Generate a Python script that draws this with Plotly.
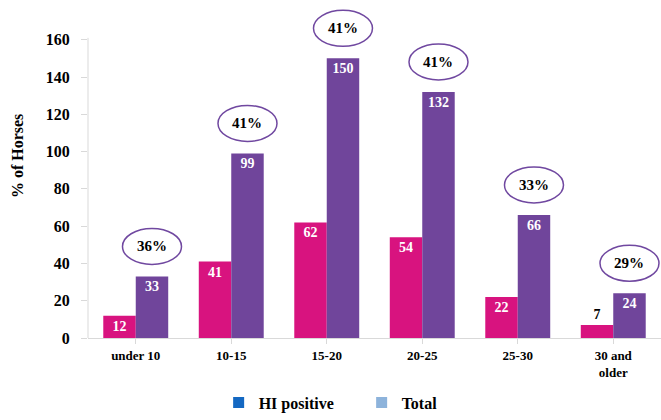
import plotly.graph_objects as go

# Age groups of the horses and the counts per group
age_groups = ["under 10", "10-15", "15-20", "20-25", "25-30", "30 and<br>older"]
hi_positive = [12, 41, 62, 54, 22, 7]
total = [33, 99, 150, 132, 66, 24]
y_tick_values = [0, 20, 40, 60, 80, 100, 120, 140, 160]

# share of HI positive horses within each age group
share_pct = [round(100 * h / t) for h, t in zip(hi_positive, total)]

SERIF = "Liberation Serif"
PINK = "#D8137F"
PURPLE = "#70459B"
AXIS_GREY = "#D9D9D9"
BAR_GAP = 0.32
bar_w = (1 - BAR_GAP) / 2  # width of one bar in category units

# the value axis stops at 160 but the plotting area runs to the top edge
# so the bubbles above the tallest bar stay visible
Y_AXIS_TOP = 160
Y_RANGE_TOP = 181.3

fig = go.Figure()

fig.add_trace(go.Bar(
    x=list(range(len(age_groups))), y=hi_positive, name="HI positive",
    marker=dict(color=PINK, line=dict(width=0)),
    text=[str(v) for v in hi_positive],
    textposition=["inside" if v >= 10 else "outside" for v in hi_positive],
    insidetextanchor="end", constraintext="none", textangle=0,
    insidetextfont=dict(family=SERIF, size=14, color="white", weight="bold"),
    outsidetextfont=dict(family=SERIF, size=14, color="black", weight="bold"),
    showlegend=False, cliponaxis=False,
))
fig.add_trace(go.Bar(
    x=list(range(len(age_groups))), y=total, name="Total",
    marker=dict(color=PURPLE, line=dict(width=0)),
    text=[str(v) for v in total],
    textposition="inside",
    insidetextanchor="end", constraintext="none", textangle=0,
    insidetextfont=dict(family=SERIF, size=14, color="white", weight="bold"),
    showlegend=False, cliponaxis=False,
))

# legend entries
fig.add_trace(go.Scatter(
    x=[None], y=[None], mode="markers", name="HI positive",
    marker=dict(symbol="square", size=11, color="#1468C2"),
))
fig.add_trace(go.Scatter(
    x=[None], y=[None], mode="markers", name="Total",
    marker=dict(symbol="square", size=11, color="#8DB3DB"),
))

# percentage bubbles above the Total bars
for i, (t, p) in enumerate(zip(total, share_pct)):
    xc = i + bar_w / 2
    fig.add_shape(
        type="circle", xref="x", yref="y",
        xsizemode="pixel", ysizemode="pixel",
        xanchor=xc, yanchor=t,
        x0=-29.5, x1=29.5, y0=30 - 18, y1=30 + 18,
        line=dict(color="#7048A0", width=1.5),
    )
    fig.add_annotation(
        x=xc, y=t, xref="x", yref="y", yshift=30,
        text=f"{p}%", showarrow=False,
        font=dict(family=SERIF, size=15, color="black", weight="bold"),
    )

# value axis line, ending at the top tick
fig.add_shape(
    type="line", xref="paper", yref="y",
    x0=0, x1=0, y0=0, y1=Y_AXIS_TOP + 1,
    line=dict(color=AXIS_GREY, width=1),
)

# y-axis title
fig.add_annotation(
    x=-0.124, y=0.538, xref="paper", yref="paper",
    text="% of Horses", textangle=-90, showarrow=False,
    xanchor="center", yanchor="middle",
    font=dict(family=SERIF, size=16, color="black", weight="bold"),
)

fig.update_layout(
    width=661, height=420,
    margin=dict(l=88, r=0, t=0, b=80),
    paper_bgcolor="white", plot_bgcolor="white",
    barmode="group", bargap=BAR_GAP, bargroupgap=0,
    font=dict(family=SERIF, color="black"),
    legend=dict(
        orientation="h", x=0.228, y=-0.191, xanchor="left", yanchor="middle",
        font=dict(family=SERIF, size=16, color="black", weight="bold"),
        entrywidth=98, entrywidthmode="pixels",
        bgcolor="rgba(0,0,0,0)",
    ),
    xaxis=dict(
        tickmode="array", tickvals=list(range(len(age_groups))), ticktext=age_groups,
        range=[-0.5, len(age_groups) - 0.5],
        showgrid=False, zeroline=False,
        showline=True, linecolor=AXIS_GREY, linewidth=1,
        ticks="outside", ticklen=5, tickcolor=AXIS_GREY,
        tickfont=dict(family=SERIF, size=13, color="black", weight="bold"),
    ),
    yaxis=dict(
        range=[0, Y_RANGE_TOP], tickvals=y_tick_values,
        showgrid=False, zeroline=False, showline=False,
        ticks="outside", ticklen=6, tickcolor=AXIS_GREY,
        ticklabelstandoff=8,
        tickfont=dict(family=SERIF, size=16, color="black", weight="bold"),
    ),
)

fig.write_html("out.html")
